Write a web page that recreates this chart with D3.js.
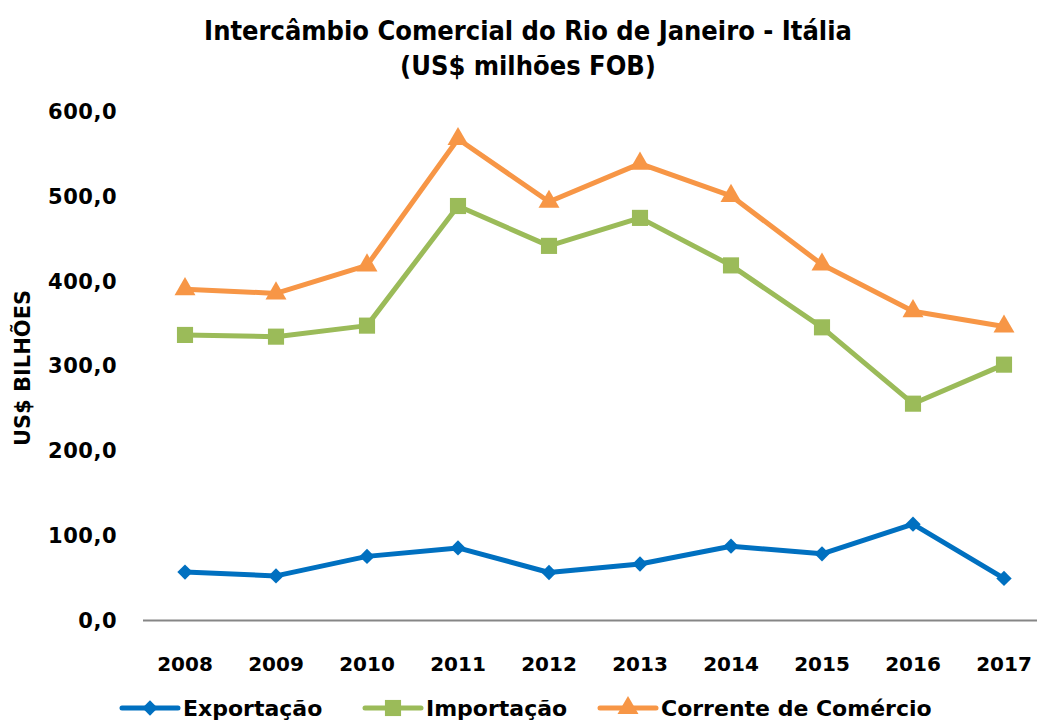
<!DOCTYPE html>
<meta charset="utf-8">
<head>
  <title>Intercâmbio Comercial RJ - Itália</title>
</head>
<style>
  body { margin: 0; background: #fff; }
  text { font-family: "DejaVu Sans", Verdana, sans-serif; font-weight: bold; fill: #000; }
  .title { font-stretch: condensed; font-size: 27px; }
</style>
<body>
<script src="https://cdnjs.cloudflare.com/ajax/libs/d3/7.8.5/d3.min.js"></script>
<div id="chart"></div>
<script>

var anos = ["2008","2009","2010","2011","2012","2013","2014","2015","2016","2017"];
var exportacao = [56.5, 52.0, 75.0, 85.0, 56.0, 66.0, 87.0, 78.0, 113.0, 49.0];
var importacao = [336.0, 334.0, 347.0, 488.0, 441.0, 474.0, 418.0, 345.0, 255.0, 301.0];
var corrente = [390.0, 385.0, 418.0, 567.0, 493.0, 538.0, 500.0, 419.0, 364.0, 346.0];
var yTicks = [0, 100, 200, 300, 400, 500, 600];

var series = [
  { nome: "Exportação", valores: exportacao, cor: "#0070C0", marca: d3.symbolDiamond2, tam: 150 },
  { nome: "Importação", valores: importacao, cor: "#9BBB59", marca: d3.symbolSquare, tam: 260 },
  { nome: "Corrente de Comércio", valores: corrente, cor: "#F79646", marca: d3.symbolTriangle, tam: 190 }
];

var width = 1037, height = 720;

var svg = d3.select("#chart").append("svg")
  .attr("width", width)
  .attr("height", height);

var x = d3.scaleBand().domain(anos).range([139.5, 1049.5]);
var y = d3.scaleLinear().domain([0, 600]).range([620, 111]);

// titulo
svg.append("text").attr("class", "title")
  .attr("x", 528).attr("y", 40).attr("text-anchor", "middle")
  .text("Intercâmbio Comercial do Rio de Janeiro - Itália");
svg.append("text").attr("class", "title")
  .attr("x", 528).attr("y", 75).attr("text-anchor", "middle")
  .text("(US$ milhões FOB)");

// eixo y
var fmt = function(v) { return d3.format(".1f")(v).replace(".", ","); };
svg.append("g")
  .attr("transform", "translate(117,0)")
  .call(d3.axisLeft(y).tickValues(yTicks).tickSize(0).tickPadding(0).tickFormat(fmt))
  .call(function(g) { g.select(".domain").remove(); })
  .selectAll("text")
  .style("font-size", "21px")
  .style("letter-spacing", "0.5px")
  .style("font-family", "\"DejaVu Sans\", Verdana, sans-serif")
  .attr("dy", "0.35em");

svg.append("text")
  .attr("transform", "translate(30,368) rotate(-90)")
  .attr("text-anchor", "middle")
  .style("font-size", "21px")
  .text("US$ BILHÕES");

// eixo x
var xAxis = svg.append("g")
  .attr("transform", "translate(0,620)")
  .call(d3.axisBottom(x).tickSize(0).tickPadding(37));
xAxis.select(".domain").attr("d", "M143,0.5H1037").attr("stroke", "#868686").attr("stroke-width", 2);
xAxis.selectAll("text")
  .style("font-size", "20px")
  .style("font-family", "\"DejaVu Sans\", Verdana, sans-serif");

var cx = function(i) { return x(anos[i]) + x.bandwidth() / 2; };

var line = d3.line()
  .x(function(d, i) { return cx(i); })
  .y(function(d) { return y(d); });

series.forEach(function(s) {
  svg.append("path")
    .attr("d", line(s.valores))
    .attr("fill", "none")
    .attr("stroke", s.cor)
    .attr("stroke-width", 5)
    .attr("stroke-linejoin", "round");
  svg.selectAll(null)
    .data(s.valores)
    .enter()
    .append("path")
    .attr("d", d3.symbol().type(s.marca).size(s.tam))
    .attr("transform", function(d, i) { return "translate(" + cx(i) + "," + y(d) + ")"; })
    .attr("fill", s.cor);
});

// legenda
var legX = [122, 365, 600];
var leg = svg.selectAll(".leg")
  .data(series)
  .enter()
  .append("g")
  .attr("transform", function(d, i) { return "translate(" + legX[i] + ",708)"; });
leg.append("line")
  .attr("x1", 0).attr("x2", 56)
  .attr("stroke", function(d) { return d.cor; })
  .attr("stroke-width", 5)
  .attr("stroke-linecap", "round");
leg.append("path")
  .attr("d", function(d) { return d3.symbol().type(d.marca).size(d.tam)(); })
  .attr("transform", "translate(28,0)")
  .attr("fill", function(d) { return d.cor; });
leg.append("text")
  .attr("x", 61).attr("y", 8)
  .style("font-size", "22px")
  .text(function(d) { return d.nome; });

</script>
</body>
